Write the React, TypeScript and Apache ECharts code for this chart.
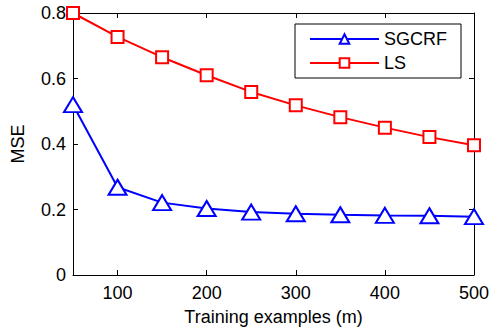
import React, { useEffect, useRef } from "react";
import * as echarts from "echarts";

const examples = [50, 100, 150, 200, 250, 300, 350, 400, 450, 500];
const sgcrf = [0.52, 0.268, 0.221, 0.203, 0.192, 0.187, 0.184, 0.182, 0.181, 0.178];
const ls = [0.8, 0.727, 0.665, 0.61, 0.559, 0.518, 0.482, 0.45, 0.421, 0.396];
const xTicks = [100, 200, 300, 400, 500];
const yTicks = [0, 0.2, 0.4, 0.6, 0.8];

const FONT = "'Liberation Sans', Arial, Helvetica, sans-serif";
const FS = 18;

export default function App() {
  const ref = useRef<HTMLDivElement>(null);
  useEffect(() => {
    if (!ref.current) return;
    const chart = echarts.init(ref.current, null, { renderer: "svg" });
    const axisLine = { show: true, onZero: false, lineStyle: { color: "#000", width: 1 } };
    const tickIn = { show: true, inside: true, length: 5, lineStyle: { color: "#000" } };
    const xBase = {
      type: "value" as const,
      min: 50,
      max: 500,
      axisLine,
      splitLine: { show: false },
    };
    const yBase = {
      type: "value" as const,
      min: yTicks[0],
      max: yTicks[yTicks.length - 1],
      interval: 0.2,
      axisLine,
      splitLine: { show: false },
    };
    chart.setOption({
      animation: false,
      textStyle: { fontFamily: FONT, color: "#000" },
      grid: { left: 73, right: 16, top: 13, bottom: 53, containLabel: false },
      xAxis: [
        {
          ...xBase,
          position: "bottom",
          name: "Training examples (m)",
          nameLocation: "middle",
          nameGap: 33,
          nameTextStyle: { fontFamily: FONT, fontSize: FS, color: "#000" },
          axisTick: { ...tickIn, customValues: xTicks },
          axisLabel: {
            customValues: xTicks,
            margin: 9,
            fontFamily: FONT,
            fontSize: FS,
            color: "#000",
          },
        },
        {
          ...xBase,
          position: "top",
          axisTick: { ...tickIn, customValues: xTicks },
          axisLabel: { show: false },
        },
      ],
      yAxis: [
        {
          ...yBase,
          position: "left",
          name: "MSE",
          nameLocation: "middle",
          nameGap: 46,
          nameTextStyle: { fontFamily: FONT, fontSize: FS, color: "#000" },
          axisTick: tickIn,
          axisLabel: {
            margin: 7,
            fontFamily: FONT,
            fontSize: FS,
            color: "#000",
            formatter: (v: number) => (v === 0 ? "0" : v.toFixed(1)),
          },
        },
        {
          ...yBase,
          position: "right",
          axisTick: tickIn,
          axisLabel: { show: false },
        },
      ],
      legend: {
        orient: "vertical",
        left: 295,
        top: 24,
        width: 150,
        padding: [6, 14, 6, 14],
        itemGap: 6,
        itemWidth: 69,
        itemHeight: 12,
        borderColor: "#000",
        borderWidth: 1,
        backgroundColor: "#fff",
        textStyle: { fontFamily: FONT, fontSize: FS, color: "#000" },
        data: ["SGCRF", "LS"],
      },
      series: [
        {
          name: "SGCRF",
          type: "line",
          data: examples.map((x, i) => [x, sgcrf[i]]),
          symbol: "emptyTriangle",
          symbolSize: [18, 15],
          clip: false,
          lineStyle: { color: "#0000ff", width: 2 },
          itemStyle: { color: "#0000ff", borderWidth: 2 },
          z: 3,
        },
        {
          name: "LS",
          type: "line",
          data: examples.map((x, i) => [x, ls[i]]),
          symbol: "emptyRect",
          symbolSize: 12,
          clip: false,
          lineStyle: { color: "#ff0000", width: 2 },
          itemStyle: { color: "#ff0000", borderWidth: 2 },
          z: 2,
        },
      ],
    });
    return () => chart.dispose();
  }, []);
  return (
    <div
      ref={ref}
      style={{ width: 492, height: 331, position: "absolute", left: 0, top: 0, background: "#fff" }}
    />
  );
}
